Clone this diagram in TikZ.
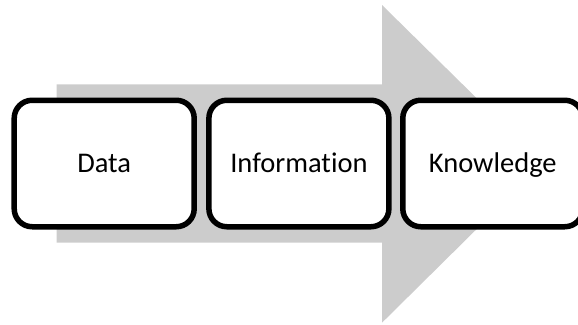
\documentclass[tikz,border=0pt]{standalone}
\usepackage{fontspec}
\setmainfont[Ligatures=NoCommon]{Carlito}
\definecolor{flowgray}{RGB}{204,204,204}
\begin{document}
\begin{tikzpicture}[x=1pt,y=-1pt,
  stage/.style={draw=black, fill=white, line width=5.5pt, rounded corners=18pt,
    minimum width=180pt, minimum height=126.5pt, inner sep=0pt,
    font=\fontsize{28.5}{34}\selectfont, text height=18pt, text depth=0pt}]
  \useasboundingbox (0,0) rectangle (578,324);
  \clip (0,0) rectangle (578,324);
  % broad arrow behind the stages
  \fill[flowgray] (56.7,84.3) -- (382,84.3) -- (382,5) -- (543,163.5)
    -- (382,322.7) -- (382,242.7) -- (56.7,242.7) -- cycle;
  % stages
  \node[stage] (data) at (104.2,163.5) {Data};
  \node[stage] (info) at (298.9,163.5) {Information};
  \node[stage] (know) at (492.8,163.5) {Knowledge};
\end{tikzpicture}
\end{document}
